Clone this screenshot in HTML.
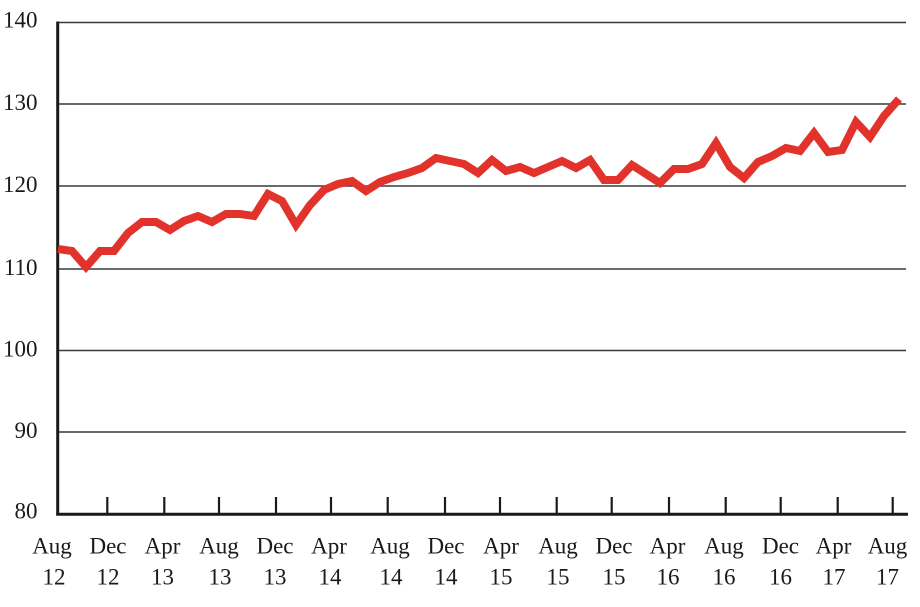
<!DOCTYPE html>
<html>
<head>
<meta charset="utf-8">
<style>
  html, body { margin: 0; padding: 0; background: #ffffff; }
  svg { display: block; }
  text { font-family: "Liberation Serif", "DejaVu Serif", serif; font-size: 23px; fill: #1a1a1a; }
</style>
</head>
<body>
<svg width="920" height="607" viewBox="0 0 920 607" xmlns="http://www.w3.org/2000/svg">
  <rect width="920" height="607" fill="#ffffff"/>
  <!-- gridlines -->
  <g stroke="#3a3a3a" stroke-width="1.6">
    <line x1="57" y1="22.5" x2="906" y2="22.5"/>
    <line x1="57" y1="104" x2="906" y2="104"/>
    <line x1="57" y1="186" x2="906" y2="186"/>
    <line x1="57" y1="269" x2="906" y2="269"/>
    <line x1="57" y1="350.5" x2="906" y2="350.5"/>
    <line x1="57" y1="432" x2="906" y2="432"/>
  </g>
  <!-- axes -->
  <g stroke="#1a1a1a" stroke-width="3" fill="none">
    <line x1="57.7" y1="21.5" x2="57.7" y2="515.5"/>
    <line x1="56.2" y1="514.3" x2="908" y2="514.3"/>
  </g>
  <!-- ticks -->
  <g stroke="#1a1a1a" stroke-width="2.2">
    <line x1="107.3" y1="497" x2="107.3" y2="514"/>
    <line x1="164.3" y1="497" x2="164.3" y2="514"/>
    <line x1="219" y1="497" x2="219" y2="514"/>
    <line x1="276" y1="497" x2="276" y2="514"/>
    <line x1="331" y1="497" x2="331" y2="514"/>
    <line x1="387.7" y1="497" x2="387.7" y2="514"/>
    <line x1="445" y1="497" x2="445" y2="514"/>
    <line x1="500" y1="497" x2="500" y2="514"/>
    <line x1="556.7" y1="497" x2="556.7" y2="514"/>
    <line x1="611.7" y1="497" x2="611.7" y2="514"/>
    <line x1="669" y1="497" x2="669" y2="514"/>
    <line x1="725.7" y1="497" x2="725.7" y2="514"/>
    <line x1="780.7" y1="497" x2="780.7" y2="514"/>
    <line x1="837.7" y1="497" x2="837.7" y2="514"/>
    <line x1="892.7" y1="497" x2="892.7" y2="514"/>
  </g>
  <!-- y labels -->
  <g text-anchor="end">
    <text x="37.5" y="27.5">140</text>
    <text x="37.5" y="110">130</text>
    <text x="37.5" y="192">120</text>
    <text x="37.5" y="275">110</text>
    <text x="37.5" y="356.5">100</text>
    <text x="37.5" y="438">90</text>
    <text x="37.5" y="518.5">80</text>
  </g>
  <!-- x labels -->
  <g text-anchor="middle">
    <text x="52" y="553.5">Aug</text><text x="54" y="584.5">12</text>
    <text x="108" y="553.5">Dec</text><text x="108" y="584.5">12</text>
    <text x="162.5" y="553.5">Apr</text><text x="162.5" y="584.5">13</text>
    <text x="219" y="553.5">Aug</text><text x="220" y="584.5">13</text>
    <text x="275" y="553.5">Dec</text><text x="275" y="584.5">13</text>
    <text x="329" y="553.5">Apr</text><text x="330" y="584.5">14</text>
    <text x="390" y="553.5">Aug</text><text x="391" y="584.5">14</text>
    <text x="446" y="553.5">Dec</text><text x="446" y="584.5">14</text>
    <text x="501" y="553.5">Apr</text><text x="501" y="584.5">15</text>
    <text x="558" y="553.5">Aug</text><text x="558" y="584.5">15</text>
    <text x="614" y="553.5">Dec</text><text x="614" y="584.5">15</text>
    <text x="667.5" y="553.5">Apr</text><text x="668" y="584.5">16</text>
    <text x="724" y="553.5">Aug</text><text x="724" y="584.5">16</text>
    <text x="780.5" y="553.5">Dec</text><text x="780.5" y="584.5">16</text>
    <text x="833.5" y="553.5">Apr</text><text x="834" y="584.5">17</text>
    <text x="887.5" y="553.5">Aug</text><text x="887.5" y="584.5">17</text>
  </g>
  <!-- data series -->
  <polyline fill="none" stroke="#e1332c" stroke-width="8" stroke-linejoin="miter" stroke-miterlimit="3" stroke-linecap="butt"
    points="58,249 72,251 86,267 100,251 114,251 128,233 142,222 156,222 170,230 184,221 198,216 212,222 226,214 240,214 254,216 268,194 282,201 296,225 310,205 324,190 338,184 352,181 366,191 380,182 394,177 408,173 422,168 436,158 450,161 464,164 478,173 492,160 506,171 520,167 534,173 548,167 562,161 576,168 590,160 604,180 618,180 632,165 646,174 660,183 674,169 688,169 702,164 716,143 730,167 744,178 758,162 772,156 786,148 800,151 814,133 828,152 842,150 856,122 870,137 884,116 899,99"/>
</svg>
</body>
</html>
